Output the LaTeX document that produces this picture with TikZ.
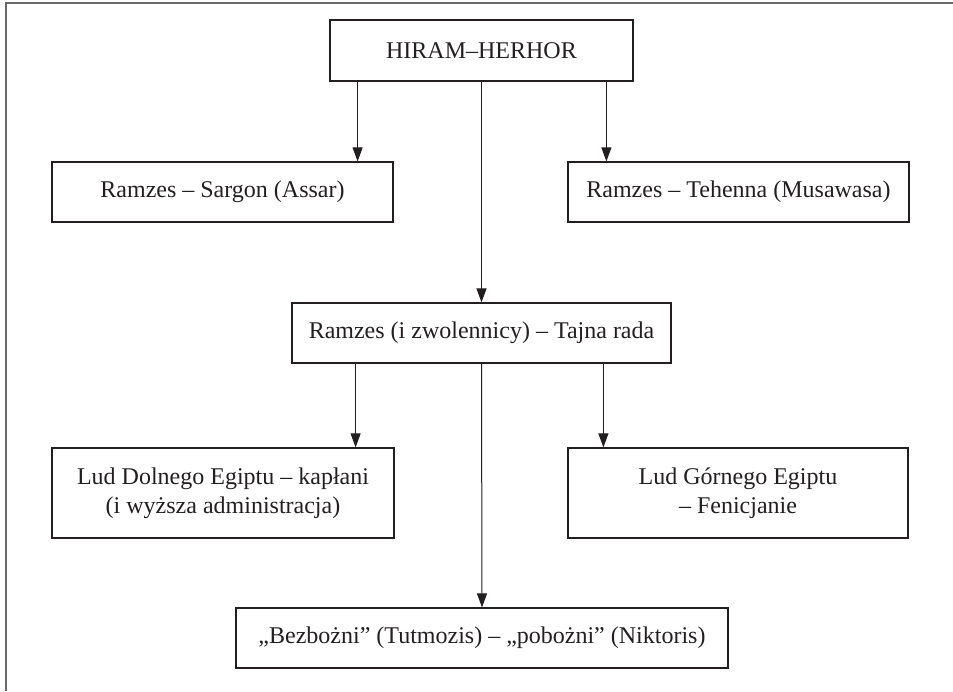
\documentclass[tikz,border=0pt]{standalone}
\usepackage{fontspec}
\setmainfont{Liberation Serif}
\usepackage{tikz}
\usetikzlibrary{positioning,arrows.meta,calc}
\definecolor{inkgray}{HTML}{231F20}
\definecolor{framegray}{HTML}{6A6A6A}
\tikzset{
    box/.style={draw=inkgray,line width=0.6pt,text=inkgray,align=center,
        inner sep=0pt,font=\fontsize{12}{14.5}\selectfont},
    link/.style={draw=inkgray,line width=0.5pt,-{Triangle[length=7pt,width=5pt]}},
    frameline/.style={draw=framegray,line width=1pt},
}

\begin{document}
\begin{tikzpicture}[x=0.5pt,y=-0.5pt]
    \useasboundingbox (0,0) rectangle (953,691);
    \draw[frameline] (6,691) -- (6,3) -- (953,3);

    \node[box,minimum width=151.5pt,minimum height=30.5pt] (hiram) at (481.5,50.5) {HIRAM–HERHOR};
    \node[box,minimum width=170.5pt,minimum height=30pt] (sargon) at (222.5,192) {Ramzes – Sargon (Assar)};
    \node[box,minimum width=170.5pt,minimum height=30pt] (tehenna) at (738.5,192) {Ramzes – Tehenna (Musawasa)};
    \node[box,minimum width=189.5pt,minimum height=30pt] (rada) at (481.5,333) {Ramzes (i zwolennicy) – Tajna rada};
    \node[box,minimum width=171pt,minimum height=45pt] (dolny) at (223,493) {Lud Dolnego Egiptu – kapłani\\(i wyższa administracja)};
    \node[box,minimum width=170pt,minimum height=45pt] (gorny) at (738,493) {Lud Górnego Egiptu\\– Fenicjanie};
    \node[box,minimum width=246pt,minimum height=30pt] (bezbozni) at (482,638) {„Bezbożni” (Tutmozis) – „pobożni” (Niktoris)};

    % first level
    \draw[link] ([xshift=-18pt]sargon.north east |- hiram.south) -- ([xshift=-18pt]sargon.north east);
    \draw[link] ([xshift=19.5pt]tehenna.north west |- hiram.south) -- ([xshift=19.5pt]tehenna.north west);
    \draw[link] (hiram.south) -- (rada.north);

    % second level
    \draw[link] ([xshift=-19.5pt]dolny.north east |- rada.south) -- ([xshift=-19.5pt]dolny.north east);
    \draw[link] ([xshift=18pt]gorny.north west |- rada.south) -- ([xshift=18pt]gorny.north west);
    \draw[link] (rada.south) -- (bezbozni.north);
\end{tikzpicture}
\end{document}
